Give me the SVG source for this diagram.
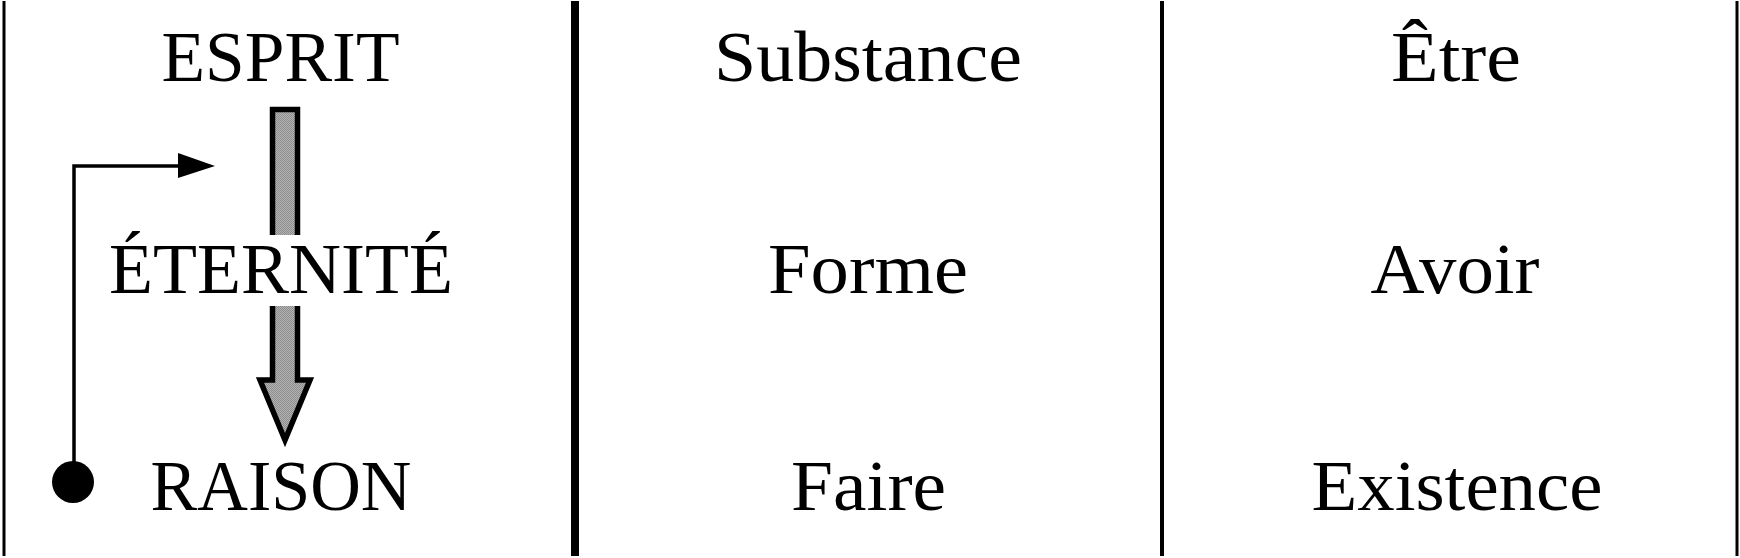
<svg xmlns="http://www.w3.org/2000/svg" width="1740" height="558" viewBox="0 0 1740 558">
  <style>
    .lbl { font-family: "Liberation Serif", "Times New Roman", serif; font-size: 72px; fill: #000; text-anchor: middle; }
    .rule { stroke: #000; fill: none; }
    .conn { stroke: #000; stroke-width: 3.5; fill: none; }
  </style>
  <defs>
    <pattern id="stipple" width="2" height="2" patternUnits="userSpaceOnUse">
      <rect width="2" height="2" fill="#b4b4b4"/>
      <rect width="1" height="1" fill="#8c8c8c"/>
      <rect x="1" y="1" width="1" height="1" fill="#8c8c8c"/>
    </pattern>
  </defs>
  <rect width="1740" height="558" fill="#fff"/>

  <g id="column-rules">
    <line class="rule" x1="4" y1="1" x2="4" y2="556" stroke-width="3"/>
    <line class="rule" x1="575" y1="1" x2="575" y2="556" stroke-width="8"/>
    <line class="rule" x1="1162" y1="1" x2="1162" y2="556" stroke-width="4"/>
    <line class="rule" x1="1737" y1="1" x2="1737" y2="556" stroke-width="3"/>
  </g>

  <g id="connectors">
    <g id="big-arrow">
      <path d="M272.5,109.5 H297.5 V380 H310 L285,440 L260,380 H272.5 Z" fill="url(#stipple)" stroke="#000" stroke-width="5.5" stroke-linejoin="miter"/>
      <rect x="265" y="235" width="40" height="71" fill="#fff"/>
    </g>
    <g id="loop-arrow">
      <polyline class="conn" points="74,470 74,166 182,166"/>
      <polygon points="178,153 215,166 178,178" fill="#000"/>
      <circle cx="73" cy="482" r="21" fill="#000"/>
    </g>
  </g>

  <g id="node-esprit"><text class="lbl" x="280.5" y="81" textLength="238" lengthAdjust="spacingAndGlyphs">ESPRIT</text></g>
  <g id="node-eternite"><text class="lbl" x="281" y="293" textLength="344" lengthAdjust="spacingAndGlyphs">ÉTERNITÉ</text></g>
  <g id="node-raison"><text class="lbl" x="281" y="510" textLength="261" lengthAdjust="spacingAndGlyphs">RAISON</text></g>

  <g id="node-substance"><text class="lbl" x="868" y="81" textLength="308" lengthAdjust="spacingAndGlyphs">Substance</text></g>
  <g id="node-forme"><text class="lbl" x="868" y="293" textLength="200" lengthAdjust="spacingAndGlyphs">Forme</text></g>
  <g id="node-faire"><text class="lbl" x="868.5" y="510" textLength="155" lengthAdjust="spacingAndGlyphs">Faire</text></g>

  <g id="node-etre"><text class="lbl" x="1456" y="81" textLength="130" lengthAdjust="spacingAndGlyphs">Être</text></g>
  <g id="node-avoir"><text class="lbl" x="1455" y="293" textLength="169" lengthAdjust="spacingAndGlyphs">Avoir</text></g>
  <g id="node-existence"><text class="lbl" x="1457" y="510" textLength="291" lengthAdjust="spacingAndGlyphs">Existence</text></g>
</svg>
